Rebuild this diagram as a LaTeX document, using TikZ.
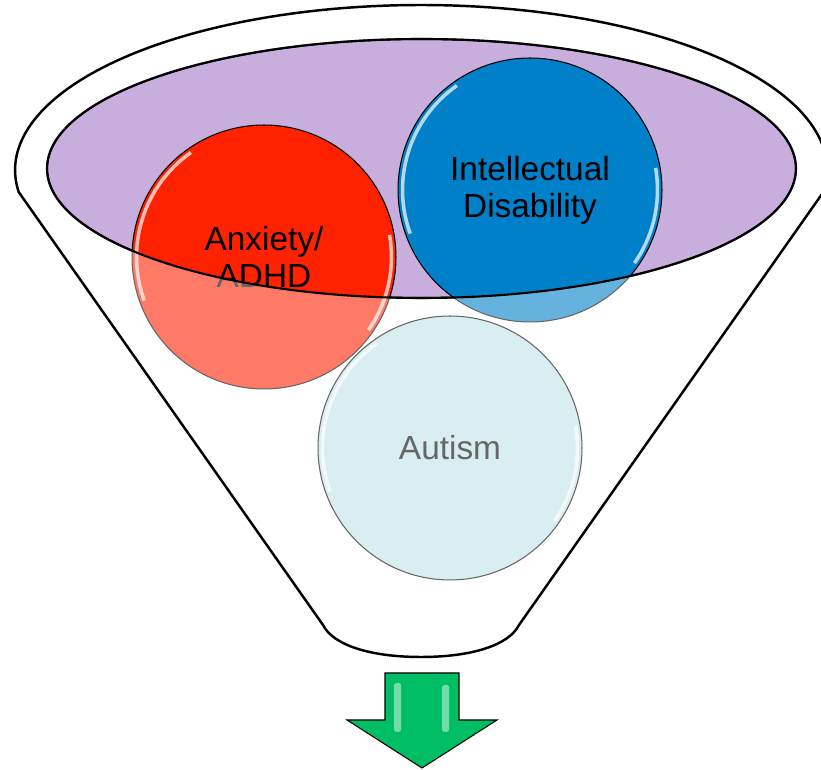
\documentclass[tikz,border=0pt]{standalone}
\usepackage{fontspec}
\setmainfont{Liberation Sans}
\usetikzlibrary{shapes.geometric}
\definecolor{mouthPurple}{RGB}{200,174,220}
\definecolor{anxietyRed}{RGB}{255,34,0}
\definecolor{intellectBlue}{RGB}{0,128,200}
\definecolor{autismCyan}{RGB}{193,227,230}
\definecolor{arrowGreen}{RGB}{0,190,100}
\tikzset {
	rim/.style={draw=black, line width=1.4pt},
	mouth/.style={ellipse, draw=black, line width=1.2pt, fill=mouthPurple,
					minimum width=14.98cm, minimum height=5.18cm, inner sep=0pt},
	bubble/.style={circle, draw=black, line width=.6pt, minimum size=5.28cm, inner sep=0pt,
					align=center, font=\fontsize{19}{21}\selectfont,
					path picture={
						\draw[white, opacity=.7, line width=2pt] ([shift={(125:2.55cm)}]path picture bounding box.center) arc[start angle=125, end angle=200, radius=2.55cm];
						\draw[white, opacity=.7, line width=2pt] ([shift={(-35:2.55cm)}]path picture bounding box.center) arc[start angle=-35, end angle=10, radius=2.55cm];
					}},
	glass/.style={fill=white, fill opacity=.4, even odd rule},
	pointer/.style={fill=arrowGreen, draw=black, line width=.6pt, line join=miter},
	gleam/.style={fill=white, fill opacity=.45, rounded corners=1pt}
}
\newcommand{\funnelpath}{(823.4,578) arc[start angle=-7.66, end angle=187.66, x radius=406, y radius=165]
	-- (323,145) .. controls (333,125) and (370,113) .. (421,113)
	.. controls (472,113) and (509,125) .. (519,145) -- cycle}

\begin{document}
\begin{tikzpicture}[x=0.02cm, y=0.02cm]
	\useasboundingbox (0,0) rectangle (821,770);
	% funnel and its opening
	\fill[white] \funnelpath;
	\node [mouth] (mouth) at (421.5,601.5) {};
	\node [bubble, fill=anxietyRed] (anxiety) at (264,513) {Anxiety/\\ADHD};
	\node [bubble, fill=intellectBlue] (intellect) at (530,580) {Intellectual\\Disability};
	\node [bubble, fill=autismCyan] (autism) at (450,322) {Autism};
	% front of the funnel
	\fill[glass] \funnelpath (mouth.center) ellipse[x radius=374.5, y radius=129.5];
	\draw[rim] \funnelpath;
	\draw[line width=1.2pt] (mouth.center) ellipse[x radius=374.5, y radius=129.5];
	% arrow out
	\draw[pointer] (385,97) -- (459,97) -- (459,50) -- (497,50) -- (422,2) -- (347,50) -- (385,50) -- cycle;
	\fill[gleam] (394,38) rectangle (401,87);
	\fill[gleam] (442,38) rectangle (449,85);
\end{tikzpicture}
\end{document}
